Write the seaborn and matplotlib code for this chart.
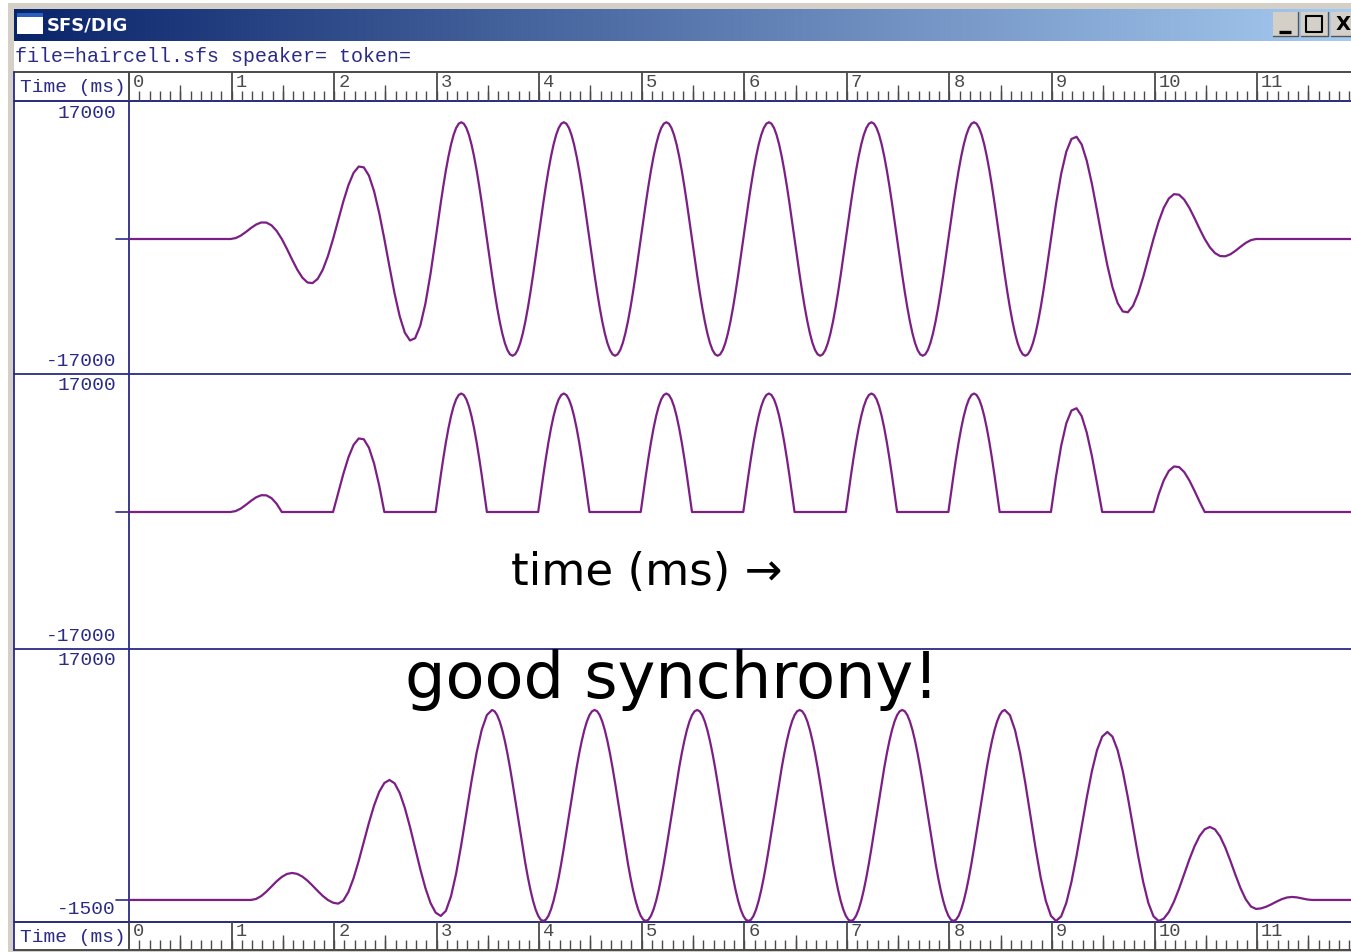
import numpy as np
import pandas as pd
import matplotlib
matplotlib.use("Agg")
import matplotlib.pyplot as plt
import seaborn as sns

# ---- data: amplitudes in sample units ----
lead = [0] * 20
onset_top = [0, 113, 429, 886, 1388, 1825, 2083, 2067, 1717, 1015, 0, -1241, -2575, -3839, -4860, -5475, -5554, -5020, -3863, -2143,
             0, 2369, 4722, 6792, 8331, 9125, 9025, 7973, 6009, 3271, 0, -3496, -6868, -9744, -11802, -12775, -12496, -10926, -8156, -4399]
steady_top = [0, 2300, 4540, 6670, 8640, 10390, 11890, 13100, 13980, 14520, 14700, 14520, 13980, 13100, 11890, 10390, 8640, 6670, 4540, 2300,
              0, -2300, -4540, -6670, -8640, -10390, -11890, -13100, -13980, -14520, -14700, -14520, -13980, -13100, -11890, -10390, -8640, -6670, -4540, -2300]
offset_top = [0, 4430, 8214, 11006, 12591, 12875, 11897, 9825, 6927, 3527, 0, -3302, -6068, -8054, -9120, -9225, -8426, -6872, -4780, -2399,
              0, 2174, 3922, 5101, 5649, 5575, 4955, 3920, 2634, 1272, 0, -1046, -1776, -2148, -2178, -1925, -1484, -967, -488, -144, 0]

onset_mid = [0, 113, 429, 886, 1388, 1825, 2083, 2067, 1717, 1015, 0, 0, 0, 0, 0, 0, 0, 0, 0, 0,
             0, 2369, 4722, 6792, 8331, 9125, 9025, 7973, 6009, 3271, 0, 0, 0, 0, 0, 0, 0, 0, 0, 0]
steady_mid = [0, 2300, 4540, 6670, 8640, 10390, 11890, 13100, 13980, 14520, 14700, 14520, 13980, 13100, 11890, 10390, 8640, 6670, 4540, 2300,
              0, 0, 0, 0, 0, 0, 0, 0, 0, 0, 0, 0, 0, 0, 0, 0, 0, 0, 0, 0]
offset_mid = [0, 4430, 8214, 11006, 12591, 12875, 11897, 9825, 6927, 3527, 0, 0, 0, 0, 0, 0, 0, 0, 0, 0,
              0, 2174, 3922, 5101, 5649, 5575, 4955, 3920, 2634, 1272, 0, 0, 0, 0, 0, 0, 0, 0, 0, 0, 0]

onset_low = [0, 0, 0, 0, 0, 70, 269, 566, 918, 1270, 1567, 1766, 1836, 1773, 1592, 1315, 974, 612, 272, -6, -187, -250,
             -44, 553, 1483, 2656, 3955, 5254, 6427, 7357, 7954, 8160,
             7934, 7277, 6254, 4965, 3536, 2107, 818, -205, -862, -1088,
             -745, 250, 1799, 3752, 5916, 8080, 10033, 11582, 12577, 12920]
steady_low = [12832, 12569, 12138, 11550, 10818, 9964, 9005, 7962, 6864, 5745, 4626, 3528, 2485, 1526, 672, -60, -648, -1079, -1344, -1430,
              -1344, -1079, -648, -60, 672, 1526, 2485, 3528, 4626, 5745, 6864, 7962, 9005, 9964, 10818, 11550, 12138, 12569, 12832, 12920]
offset_low = [12569, 11550, 9964, 7962, 5745, 3528, 1526, -60, -1079, -1430,
              -1115, -203, 1219, 3011, 4997, 6983, 8775, 10197, 11109, 11424,
              11109, 10197, 8775, 6983, 4997, 3011, 1219, -203, -1115, -1430,
              -1273, -819, -112, 779, 1767, 2755, 3646, 4353, 4807, 4964,
              4796, 4312, 3570, 2661, 1691, 782, 40, -444, -612,
              -572, -458, -295, -113, 50, 164, 204,
              174, 102, 30, 0]
tail = [0] * 20

top_wave = lead + onset_top + steady_top * 6 + offset_top + tail
mid_wave = lead + onset_mid + steady_mid * 6 + offset_mid + tail
low_wave = lead + onset_low + steady_low * 5 + offset_low + tail

# sample spacing in ms of each stretch: 0.05 outside the steady cycles, 0.025 inside
time_top = -0.01 + np.cumsum([0.0] + [0.05] * (len(lead) + len(onset_top) - 1)
                             + [0.05] + [0.025] * (len(steady_top) * 6 - 1)
                             + [0.025] + [0.05] * (len(offset_top) + len(tail) - 1))
time_low = -0.01 + np.cumsum([0.0] + [0.05] * (len(lead) + len(onset_low) - 1)
                             + [0.025] * (len(steady_low) * 5)
                             + [0.05] * (len(offset_low) + len(tail)))

ruler_labels = ["0", "1", "2", "3", "4", "5", "6", "7", "8", "9", "10", "11"]
panel_limits = [(-17000, 17000), (-17000, 17000), (-1500, 17000)]
panel_top_labels = ["17000", "17000", "17000"]
panel_bottom_labels = ["-17000", "-17000", "-1500"]

# ---- styles ----
NAVY = "#2b2b86"
WAVE = "#7b1f85"
GREY = "#d4d0c8"
DARK = "#4a4a4a"
MONO = "Liberation Mono"
W, H = 1351, 953

sns.set_theme(style="white")
fig = plt.figure(figsize=(W / 100, H / 100), dpi=100, facecolor="white")


def rect(l, t, r, b):
    return [l / W, 1 - b / H, (r - l) / W, (b - t) / H]


chrome = fig.add_axes([0, 0, 1, 1], zorder=0)
chrome.set_xlim(0, W)
chrome.set_ylim(H, 0)
chrome.axis("off")

# window frame
chrome.fill_between([8, W], 4, 10, color=GREY, lw=0)
chrome.fill_between([8, 14], 4, 953, color=GREY, lw=0)
chrome.fill_between([8, W], 951, 953, color=GREY, lw=0)

# title bar
grad = np.linspace(0, 1, 512)[None, :, None]
c0 = np.array([10, 36, 106]) / 255
c1 = np.array([166, 202, 240]) / 255
chrome.imshow(c0 + (c1 - c0) * grad, extent=(14, W, 42, 10), aspect="auto", zorder=1)
chrome.set_xlim(0, W)
chrome.set_ylim(H, 0)
chrome.fill_between([17, 43], 14, 35, color="white", lw=0, zorder=2)
chrome.fill_between([17, 43], 14, 18, color="#2a5fc0", lw=0, zorder=3)
chrome.text(47, 26, "SFS/DIG", color="white", fontsize=13, fontweight="bold",
            family="DejaVu Sans", va="center", ha="left", zorder=3)
for l, r in [(1273, 1298), (1301, 1328), (1331, 1352)]:
    chrome.fill_between([l, r], 13, 37, color=GREY, lw=0, zorder=2)
    chrome.plot([l, r, r], [37, 37, 13], color="#555555", lw=1, zorder=3)
chrome.plot([1279, 1291], [33, 33], color="black", lw=2.4, zorder=4, solid_capstyle="butt")
chrome.fill_between([1306, 1322], 17, 33, facecolor="none", edgecolor="black", lw=1.5, zorder=4)
chrome.text(1336, 25, "X", color="black", fontsize=14, fontweight="bold", va="center", ha="left", zorder=4)

# header line
chrome.text(15, 56, "file=haircell.sfs speaker= token=", family=MONO, fontsize=14.4, color=NAVY,
            va="center", ha="left")

# rulers
ruler_boxes = [(73, 102), (923, 951)]
for t, b in ruler_boxes:
    chrome.plot([14, W], [t, t], color=DARK, lw=1.4, zorder=2)
    chrome.plot([14, W], [b, b], color=DARK, lw=1.4, zorder=2)
    chrome.plot([129, 129], [t, b], color=DARK, lw=1.4, zorder=2)
    chrome.text(20, (t + b) / 2 + 0.5, "Time (ms)", family=MONO, fontsize=14, color=NAVY, va="center", ha="left")
    ax_r = fig.add_axes(rect(129, t, W, b), zorder=2)
    ax_r.patch.set_alpha(0)
    ax_r.axis("off")
    ax_r.set_xlim(0, (W - 129) / 102.55)
    ax_r.set_ylim(1, 0)
    whole = np.arange(len(ruler_labels))
    half = whole + 0.5
    tenth = np.arange(1, 120) * 0.1
    ax_r.vlines(tenth, 0.66, 1, color=DARK, lw=1)
    ax_r.vlines(half, 0.46, 1, color=DARK, lw=1)
    ax_r.vlines(whole, 0, 1, color=DARK, lw=1.3)
    for x0, s in zip(whole, ruler_labels):
        ax_r.text(x0 + 0.04, 0.32, s, family=MONO, fontsize=13.5, color=DARK, va="center", ha="left")

# panel frame
for y in [102, 375, 650, 923]:
    chrome.plot([14, W], [y, y], color=NAVY, lw=1.3, zorder=2)
chrome.plot([129, 129], [102, 923], color=NAVY, lw=1.3, zorder=2)
chrome.plot([14, 14], [73, 951], color=NAVY, lw=1.3, zorder=2)

# panels
panel_boxes = [(105, 375), (376, 650), (651, 923)]
waves = [top_wave, mid_wave, low_wave]
times = [time_top, time_top, time_low]
label_ys = [(113, 362), (386, 637), (661, 910)]
base_ys = [240, 513, 901]
for (t, b), tm, wave, lim, tl, bl, (ty, by), base in zip(panel_boxes, times, waves, panel_limits,
                                                         panel_top_labels, panel_bottom_labels, label_ys, base_ys):
    ax = fig.add_axes(rect(129, t, W, b), zorder=3)
    ax.patch.set_alpha(0)
    df = pd.DataFrame({"time": tm, "value": wave})
    sns.lineplot(data=df, x="time", y="value", ax=ax, color=WAVE, lw=1.6, estimator=None, sort=False, errorbar=None)
    ax.set_xlim(0, (W - 129) / 102.55)
    ax.set_ylim(*lim)
    ax.axis("off")
    chrome.plot([116, 129], [base, base], color=NAVY, lw=1.2, zorder=2)
    chrome.text(116, ty, tl, family=MONO, fontsize=14, color=NAVY, va="center", ha="right")
    chrome.text(116, by, bl, family=MONO, fontsize=14, color=NAVY, va="center", ha="right")

# overlaid captions
over = fig.add_axes([0, 0, 1, 1], zorder=5)
over.set_xlim(0, W)
over.set_ylim(H, 0)
over.axis("off")
over.patch.set_alpha(0)
over.text(511, 573, "time (ms) →", fontsize=32.5, color="black", family="DejaVu Sans", va="center", ha="left")
over.text(405, 680, "good synchrony!", fontsize=46, color="black", family="DejaVu Sans", va="center", ha="left")

fig.savefig("out.png", dpi=100)
